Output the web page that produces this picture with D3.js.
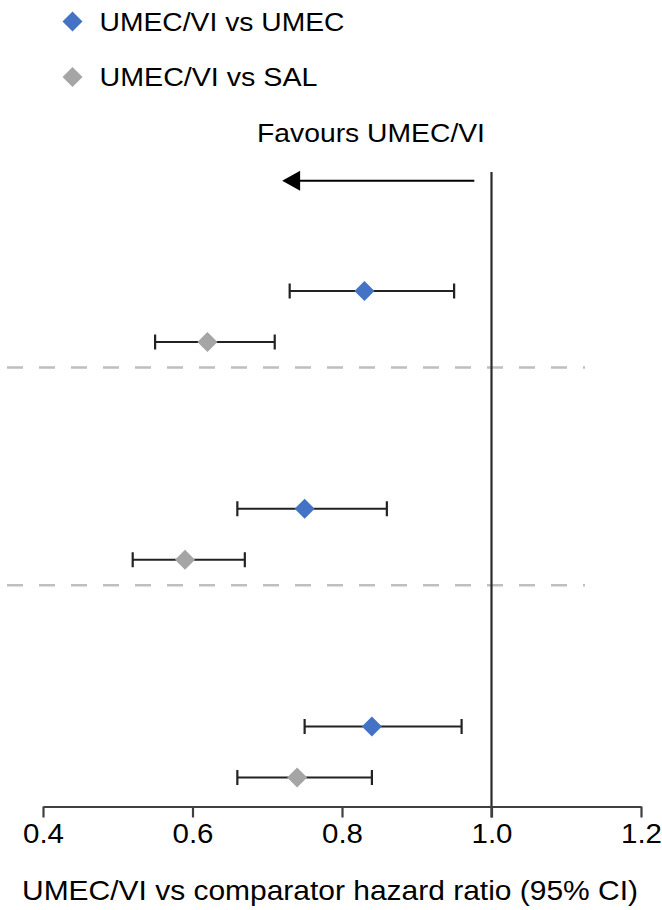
<!DOCTYPE html>
<html>
<head>
<meta charset="utf-8">
<script src="https://cdn.jsdelivr.net/npm/d3@7"></script>
<style>
  html, body { margin: 0; padding: 0; background: #fff; }
  svg { display: block; font-family: "Liberation Sans", Arial, sans-serif; }
</style>
</head>
<body>
<svg id="chart" width="662" height="910"></svg>
<script>
// Hazard ratios with 95% CI, three outcome groups, two comparisons each
const groups = ["Outcome A", "Outcome B", "Outcome C"];
const seriesNames = ["UMEC/VI vs UMEC", "UMEC/VI vs SAL"];
const seriesColors = ["#4472C4", "#A5A5A5"];

const hrUmec     = [0.83, 0.75, 0.84];
const lowerUmec  = [0.73, 0.66, 0.75];
const upperUmec  = [0.95, 0.86, 0.96];

const hrSal      = [0.62, 0.59, 0.74];
const lowerSal   = [0.55, 0.52, 0.66];
const upperSal   = [0.71, 0.67, 0.84];

const xTicks = [0.4, 0.6, 0.8, 1.0, 1.2];
const xDomain = [0.4, 1.2];
const nullValue = 1.0;
const favoursLabel = "Favours UMEC/VI";
const xTitle = "UMEC/VI vs comparator hazard ratio (95% CI)";

const svg = d3.select("#chart");

const x = d3.scaleLinear().domain(xDomain).range([43, 641]);
const yGroup = d3.scalePoint().domain(groups).range([316.5, 752]);
const ySeries = d3.scalePoint().domain(seriesNames).range([-25.5, 25.5]);
const axisY = 806.5;

const rows = [];
groups.forEach((g, i) => {
  rows.push({ group: g, series: seriesNames[0], hr: hrUmec[i], lo: lowerUmec[i], hi: upperUmec[i], color: seriesColors[0] });
  rows.push({ group: g, series: seriesNames[1], hr: hrSal[i], lo: lowerSal[i], hi: upperSal[i], color: seriesColors[1] });
});
const rowY = d => yGroup(d.group) + ySeries(d.series);

// dashed separators between groups
svg.append("g").selectAll("line")
  .data(groups.slice(0, -1))
  .join("line")
  .attr("x1", 7).attr("x2", 585)
  .attr("y1", g => yGroup(g) + 51).attr("y2", g => yGroup(g) + 51)
  .attr("stroke", "#BFBFBF").attr("stroke-width", 2.5)
  .attr("stroke-dasharray", "16,16");

// reference line at HR = 1
svg.append("line")
  .attr("x1", x(nullValue)).attr("x2", x(nullValue))
  .attr("y1", 172).attr("y2", axisY + 11)
  .attr("stroke", "#2a2a2a").attr("stroke-width", 2.2);

// x axis
const xAxis = d3.axisBottom(x)
  .tickValues(xTicks)
  .tickFormat(d3.format(".1f"))
  .tickSize(11)
  .tickSizeOuter(0)
  .tickPadding(6);
const ax = svg.append("g").attr("transform", `translate(0,${axisY})`).call(xAxis);
ax.select(".domain").attr("stroke", "#404040").attr("stroke-width", 2.2);
ax.selectAll(".tick line").attr("stroke", "#404040").attr("stroke-width", 2.2);
ax.selectAll(".tick text")
  .attr("font-size", 28).attr("fill", "#000")
  .attr("textLength", 41).attr("lengthAdjust", "spacingAndGlyphs")
  .attr("font-family", "Liberation Sans, Arial, sans-serif");

svg.append("text")
  .attr("x", 330).attr("y", 900)
  .attr("text-anchor", "middle")
  .attr("font-size", 27.5).attr("fill", "#000")
  .attr("textLength", 616).attr("lengthAdjust", "spacingAndGlyphs")
  .text(xTitle);

// favours label and arrow
svg.append("text")
  .attr("x", 371).attr("y", 142)
  .attr("text-anchor", "middle")
  .attr("font-size", 26).attr("fill", "#000")
  .attr("textLength", 228).attr("lengthAdjust", "spacingAndGlyphs")
  .text(favoursLabel);

const arrowY = 180.7;
svg.append("line")
  .attr("x1", x(0.977)).attr("x2", x(0.735))
  .attr("y1", arrowY).attr("y2", arrowY)
  .attr("stroke", "#000").attr("stroke-width", 2);
svg.append("path")
  .attr("d", `M${x(0.72)},${arrowY} L${x(0.744)},${arrowY - 10} L${x(0.744)},${arrowY + 10} Z`)
  .attr("fill", "#000");

// error bars
const bars = svg.append("g").selectAll("g")
  .data(rows)
  .join("g")
  .attr("stroke", "#222").attr("stroke-width", 2.2);
bars.append("line")
  .attr("x1", d => x(d.lo)).attr("x2", d => x(d.hi))
  .attr("y1", rowY).attr("y2", rowY);
bars.append("line")
  .attr("x1", d => x(d.lo)).attr("x2", d => x(d.lo))
  .attr("y1", d => rowY(d) - 7.5).attr("y2", d => rowY(d) + 7.5);
bars.append("line")
  .attr("x1", d => x(d.hi)).attr("x2", d => x(d.hi))
  .attr("y1", d => rowY(d) - 7.5).attr("y2", d => rowY(d) + 7.5);

// point estimates
const diamond = d3.symbol().type(d3.symbolSquare).size(200);
svg.append("g").selectAll("path")
  .data(rows)
  .join("path")
  .attr("d", diamond)
  .attr("transform", d => `translate(${x(d.hr)},${rowY(d)}) rotate(45)`)
  .attr("fill", d => d.color);

// legend
const legend = svg.append("g").selectAll("g")
  .data(seriesNames)
  .join("g")
  .attr("transform", (d, i) => `translate(72.5,${21.5 + i * 55.5})`);
legend.append("path")
  .attr("d", diamond)
  .attr("transform", "rotate(45)")
  .attr("fill", (d, i) => seriesColors[i]);
legend.append("text")
  .attr("x", 27).attr("y", 9)
  .attr("font-size", 26.5).attr("fill", "#000")
  .attr("textLength", (d, i) => i === 0 ? 245 : 218)
  .attr("lengthAdjust", "spacingAndGlyphs")
  .text(d => d);
</script>
</body>
</html>
